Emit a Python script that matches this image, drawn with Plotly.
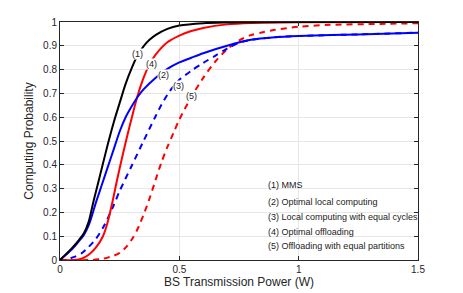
import plotly.graph_objects as go

# (1) MMS
x_mms = [0, 0.05, 0.08, 0.1, 0.12, 0.14, 0.16, 0.18, 0.2, 0.225, 0.25, 0.275, 0.3, 0.325, 0.35, 0.375, 0.4, 0.45, 0.5, 0.6, 0.7, 0.8, 1.0, 1.5]
y_mms = [0, 0.05, 0.085, 0.112, 0.16, 0.245, 0.325, 0.405, 0.485, 0.578, 0.66, 0.74, 0.805, 0.86, 0.898, 0.925, 0.945, 0.971, 0.985, 0.995, 0.998, 0.999, 1.0, 1.0]

# (2) Optimal local computing
x_olc = [0, 0.05, 0.08, 0.1, 0.12, 0.135, 0.15, 0.175, 0.2, 0.225, 0.25, 0.275, 0.3, 0.325, 0.35, 0.4, 0.45, 0.5, 0.55, 0.6, 0.7, 0.8, 0.9, 1.0, 1.25, 1.5]
y_olc = [0, 0.045, 0.08, 0.105, 0.145, 0.19, 0.24, 0.315, 0.39, 0.465, 0.54, 0.6, 0.645, 0.685, 0.717, 0.765, 0.803, 0.83, 0.85, 0.869, 0.9, 0.925, 0.936, 0.941, 0.948, 0.955]

# (3) Local computing with equal cycles
x_lce = [0, 0.02, 0.04, 0.06, 0.09, 0.12, 0.15, 0.18, 0.2, 0.225, 0.25, 0.3, 0.35, 0.4, 0.425, 0.45, 0.475, 0.5, 0.55, 0.6, 0.65, 0.7, 0.75, 0.8, 0.9, 1.0, 1.25, 1.5]
y_lce = [0, 0.0, 0.006, 0.013, 0.028, 0.055, 0.088, 0.135, 0.175, 0.23, 0.29, 0.395, 0.5, 0.603, 0.652, 0.695, 0.73, 0.757, 0.795, 0.828, 0.858, 0.888, 0.913, 0.925, 0.936, 0.941, 0.948, 0.955]

# (4) Optimal offloading
x_oo = [0, 0.06, 0.09, 0.12, 0.15, 0.18, 0.2, 0.22, 0.24, 0.26, 0.28, 0.3, 0.325, 0.35, 0.375, 0.4, 0.45, 0.5, 0.55, 0.6, 0.7, 0.8, 1.0, 1.5]
y_oo = [0, 0.0, 0.005, 0.022, 0.052, 0.1, 0.16, 0.245, 0.34, 0.43, 0.515, 0.595, 0.69, 0.765, 0.822, 0.862, 0.915, 0.943, 0.962, 0.975, 0.99, 0.996, 0.999, 1.0]

# (5) Offloading with equal partitions
x_oep = [0, 0.13, 0.17, 0.2, 0.225, 0.25, 0.275, 0.3, 0.325, 0.35, 0.375, 0.4, 0.425, 0.45, 0.475, 0.5, 0.55, 0.6, 0.65, 0.7, 0.75, 0.8, 0.85, 0.9, 1.0, 1.13, 1.34, 1.5]
y_oep = [0, 0.0, 0.004, 0.01, 0.018, 0.03, 0.052, 0.085, 0.13, 0.19, 0.258, 0.335, 0.41, 0.475, 0.533, 0.59, 0.685, 0.765, 0.833, 0.885, 0.922, 0.945, 0.957, 0.967, 0.98, 0.988, 0.992, 0.995]

x_ticks = [0, 0.5, 1, 1.5]
x_tick_text = ["0", "0.5", "1", "1.5"]
y_ticks = [0, 0.1, 0.2, 0.3, 0.4, 0.5, 0.6, 0.7, 0.8, 0.9, 1]
y_tick_text = ["0", "0.1", "0.2", "0.3", "0.4", "0.5", "0.6", "0.7", "0.8", "0.9", "1"]

curve_labels = ["(1)", "(4)", "(2)", "(3)", "(5)"]
curve_label_x = [0.325, 0.384, 0.435, 0.495, 0.551]
curve_label_y = [0.867, 0.825, 0.777, 0.731, 0.688]

legend_lines = ["(1) MMS", "(2) Optimal local computing", "(3) Local computing with equal cycles",
                "(4) Optimal offloading", "(5) Offloading with equal partitions"]
legend_y = [0.315, 0.243, 0.180, 0.117, 0.058]

fig = go.Figure()
line_w = 2
sm = 0.8
dash_style = "6px,5px"
fig.add_trace(go.Scatter(x=x_oep, y=y_oep, mode="lines", line=dict(color="#ff0000", width=line_w, dash=dash_style, shape="spline", smoothing=sm)))
fig.add_trace(go.Scatter(x=x_lce, y=y_lce, mode="lines", line=dict(color="#0000ff", width=line_w, dash=dash_style, shape="spline", smoothing=sm)))
fig.add_trace(go.Scatter(x=x_oo, y=y_oo, mode="lines", line=dict(color="#ff0000", width=line_w, shape="spline", smoothing=sm)))
fig.add_trace(go.Scatter(x=x_olc, y=y_olc, mode="lines", line=dict(color="#0000ff", width=line_w, shape="spline", smoothing=sm)))
fig.add_trace(go.Scatter(x=x_mms, y=y_mms, mode="lines", line=dict(color="#000000", width=line_w, shape="spline", smoothing=sm)))

font_family = "Liberation Sans, Arial, sans-serif"
for t, x, y in zip(curve_labels, curve_label_x, curve_label_y):
    fig.add_annotation(x=x, y=y, text=t, showarrow=False, font=dict(size=9, color="#222222", family=font_family),
                       bgcolor="white", borderpad=0)
for t, y in zip(legend_lines, legend_y):
    fig.add_annotation(x=0.865, y=y, text=t, showarrow=False, xanchor="left",
                       font=dict(size=9, color="#222222", family=font_family))

axis_common = dict(showline=True, mirror="ticks", linecolor="#262626", linewidth=1,
                   ticks="inside", ticklen=4, tickcolor="#262626", automargin=False,
                   showgrid=True, gridcolor="#e6e6e6", gridwidth=1, zeroline=False,
                   tickfont=dict(size=10, color="#262626", family=font_family))

fig.update_layout(
    width=455, height=285,
    margin=dict(l=52, r=45, t=14, b=33),
    paper_bgcolor="white", plot_bgcolor="white",
    showlegend=False,
    font=dict(family=font_family, color="#262626"),
    xaxis=dict(range=[0, 1.5], tickvals=x_ticks, ticktext=x_tick_text,
               title=dict(text="BS Transmission Power (W)", font=dict(size=12), standoff=2), **axis_common),
    yaxis=dict(range=[0, 1], tickvals=y_ticks, ticktext=y_tick_text,
               title=dict(text="Computing Probability", font=dict(size=12), standoff=6), **axis_common),
)

fig.write_html("out.html")
